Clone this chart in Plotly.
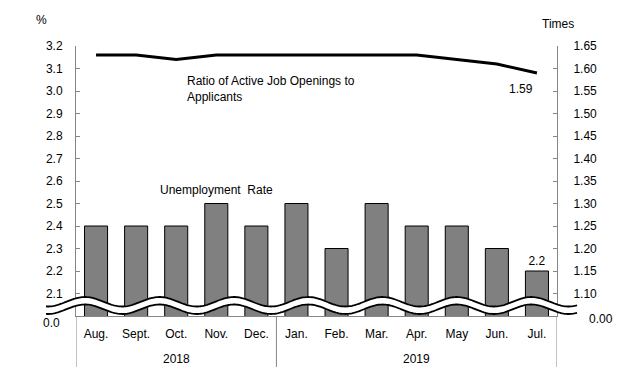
import numpy as np
import plotly.graph_objects as go

# ---- data ----
months = ["Aug.", "Sept.", "Oct.", "Nov.", "Dec.", "Jan.", "Feb.", "Mar.", "Apr.", "May", "Jun.", "Jul."]
years = ["2018", "2018", "2018", "2018", "2018", "2019", "2019", "2019", "2019", "2019", "2019", "2019"]
unemployment = [2.4, 2.4, 2.4, 2.5, 2.4, 2.5, 2.3, 2.5, 2.4, 2.4, 2.3, 2.2]
ratio = [1.63, 1.63, 1.62, 1.63, 1.63, 1.63, 1.63, 1.63, 1.63, 1.62, 1.61, 1.59]
left_ticks = [2.1, 2.2, 2.3, 2.4, 2.5, 2.6, 2.7, 2.8, 2.9, 3.0, 3.1, 3.2]
right_ticks = [1.10, 1.15, 1.20, 1.25, 1.30, 1.35, 1.40, 1.45, 1.50, 1.55, 1.60, 1.65]

FONT = "Liberation Sans, Arial, sans-serif"
AXC = "#868686"

# page body has an 8px default margin: build the figure in a 612x364 box offset by 8px
OFF = 8
W, H = 628 - 2 * OFF, 380 - 2 * OFF
PLOT_L, PLOT_R, PLOT_T, PLOT_B = 76, 557, 46, 316   # plot area in window pixels
L, T = PLOT_L - OFF, PLOT_T - OFF
R, B = W - (PLOT_R - OFF), H - (PLOT_B - OFF)
PW, PH = W - L - R, H - T - B

def px2paper(x, y):
    return (x - OFF - L) / PW, (H - B - (y - OFF)) / PH

fig = go.Figure()

bar_text = [""] * (len(unemployment) - 1) + [f"{unemployment[-1]:.1f}"]
fig.add_trace(go.Bar(
    x=months, y=unemployment, yaxis="y",
    marker=dict(color="#808080", line=dict(color="#000000", width=1)),
    text=bar_text, textposition="outside", textfont=dict(family=FONT, size=12, color="#000"),
    cliponaxis=False, showlegend=False, hoverinfo="skip",
))

fig.add_trace(go.Scatter(
    x=months, y=ratio, yaxis="y2", mode="lines",
    line=dict(color="#000000", width=3),
    cliponaxis=False, showlegend=False, hoverinfo="skip",
))

# ---- axis break wave ----
xs = np.linspace(46, 577, 400)
period, peak0, amp = 74.4, 85.0, 4.75
top = 301.75 - amp * np.cos(2 * np.pi * (xs - peak0) / period)
bot = top + 7.5

def path_of(xv, yv, close=False):
    pts = [px2paper(a, b) for a, b in zip(xv, yv)]
    s = "M " + " L ".join(f"{a:.5f},{b:.5f}" for a, b in pts)
    return s + (" Z" if close else "")

shapes = []
shapes.append(dict(type="path", xref="paper", yref="paper",
                   path=path_of(np.concatenate([xs, xs[::-1]]), np.concatenate([top - 0.5, (bot + 0.5)[::-1]]), True),
                   fillcolor="white", line=dict(width=0), layer="above"))
for yy in (top, bot):
    shapes.append(dict(type="path", xref="paper", yref="paper", path=path_of(xs, yy),
                       line=dict(color="#000000", width=1.8), layer="above"))

# ---- year groups: dividers and labels ----
groups = []
for i, yv in enumerate(years):
    if not groups or groups[-1][0] != yv:
        groups.append([yv, i, i])
    else:
        groups[-1][2] = i
div_bottom = px2paper(0, 367)[1]
bounds = [-0.5] + [g[2] + 0.5 for g in groups]
for bnd in bounds:
    shapes.append(dict(type="line", xref="x", yref="paper", x0=bnd, x1=bnd, y0=0, y1=div_bottom,
                       line=dict(color=AXC, width=1), layer="above"))

annotations = []
for g in groups:
    annotations.append(dict(text=g[0], xref="x", yref="paper", x=(g[1] + g[2]) / 2, y=px2paper(0, 359)[1],
                            showarrow=False, font=dict(family=FONT, size=12, color="#000"),
                            xanchor="center", yanchor="middle"))

annotations += [
    dict(text=f"{ratio[-1]:.2f}", xref="x", yref="y2", x=len(months) - 1, y=ratio[-1],
         xshift=-2, yshift=-16, showarrow=False, font=dict(family=FONT, size=12, color="#000"),
         xanchor="right", yanchor="middle"),
    dict(text="%", xref="paper", yref="paper", x=px2paper(41, 0)[0], y=px2paper(0, 20)[1],
         showarrow=False, font=dict(family=FONT, size=12, color="#000"), xanchor="center", yanchor="middle"),
    dict(text="Times", xref="paper", yref="paper", x=px2paper(558, 0)[0], y=px2paper(0, 24)[1],
         showarrow=False, font=dict(family=FONT, size=12, color="#000"), xanchor="center", yanchor="middle"),
    dict(text="Ratio of Active Job Openings to<br>Applicants", xref="paper", yref="paper",
         x=px2paper(185, 0)[0], y=px2paper(0, 72)[1], align="left",
         showarrow=False, font=dict(family=FONT, size=12, color="#000"), xanchor="left", yanchor="top"),
    dict(text="Unemployment  Rate", xref="paper", yref="paper",
         x=px2paper(158, 0)[0], y=px2paper(0, 190)[1],
         showarrow=False, font=dict(family=FONT, size=12, color="#000"), xanchor="left", yanchor="middle"),
    dict(text="0.0", xref="paper", yref="paper", x=px2paper(62, 0)[0], y=px2paper(0, 323)[1],
         showarrow=False, font=dict(family=FONT, size=12, color="#000"), xanchor="right", yanchor="middle"),
    dict(text="0.00", xref="paper", yref="paper", x=px2paper(587, 0)[0], y=px2paper(0, 319)[1],
         showarrow=False, font=dict(family=FONT, size=12, color="#000"), xanchor="left", yanchor="middle"),
]

fig.update_layout(
    width=W, height=H,
    margin=dict(l=L, r=R, t=T, b=B, pad=0, autoexpand=False),
    paper_bgcolor="white", plot_bgcolor="white",
    font=dict(family=FONT, size=12, color="#000"),
    bargap=0.425,
    xaxis=dict(type="category", range=[-0.5, len(months) - 0.5], showline=True, linecolor=AXC, linewidth=1,
               ticks="", showgrid=False, zeroline=False, automargin=False, ticklabelstandoff=7,
               tickfont=dict(family=FONT, size=12, color="#000")),
    yaxis=dict(range=[2.0, 3.2], tickvals=left_ticks, tickformat=".1f", showline=True, linecolor=AXC,
               linewidth=1, ticks="inside", ticklen=4, tickcolor=AXC, showgrid=False, zeroline=False,
               automargin=False, ticklabelstandoff=10, tickfont=dict(family=FONT, size=12, color="#000")),
    yaxis2=dict(range=[1.05, 1.65], tickvals=right_ticks, tickformat=".2f", overlaying="y", side="right",
                showline=True, linecolor=AXC, linewidth=1, ticks="inside", ticklen=4, tickcolor=AXC,
                showgrid=False, zeroline=False, automargin=False, ticklabelstandoff=13,
                tickfont=dict(family=FONT, size=12, color="#000")),
    shapes=shapes,
    annotations=annotations,
)

fig.write_html("out.html")
